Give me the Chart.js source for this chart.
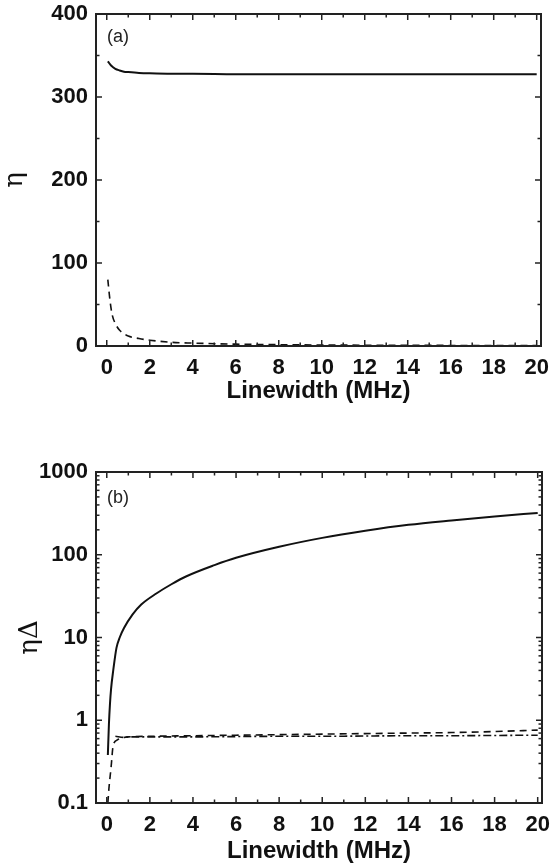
<!DOCTYPE html>
<html>
<head>
<meta charset="utf-8">
<script src="https://cdn.jsdelivr.net/npm/chart.js@4.4.0/dist/chart.umd.min.js"></script>
<style>
body{margin:0;background:#fff;}
#chartA{position:absolute;left:0;top:0;}
#chartB{position:absolute;left:0;top:425px;}
</style>
</head>
<body>
<canvas id="chartA" width="557" height="425"></canvas>
<canvas id="chartB" width="557" height="443"></canvas>
<script>
// x tick labels, shared by both panels
var xTicks = [0, 2, 4, 6, 8, 10, 12, 14, 16, 18, 20]
var yTicksA = [0, 100, 200, 300, 400]
var yTicksB = [0.1, 1, 10, 100, 1000]

// panel (a): eta
var etaSolidX = [0.05, 0.2, 0.4, 0.6, 0.8, 1, 1.5, 2, 3, 4, 6, 8, 10, 12, 14, 16, 18, 20]
var etaSolidY = [343, 338, 334, 332, 330.5, 330, 329, 328.5, 328, 328, 327.5, 327.5, 327.5, 327.5, 327.5, 327.5, 327.5, 327.5]
var etaDashX = [0.05, 0.15, 0.25, 0.4, 0.6, 0.8, 1, 1.5, 2, 3, 4, 6, 8, 10, 14, 20]
var etaDashY = [80, 55, 38, 27, 19, 15, 12, 9, 7, 4.5, 3.5, 2.2, 1.6, 1.2, 0.8, 0.5]

// panel (b): eta*Delta
var edSolidX = [0.05, 0.1, 0.15, 0.2, 0.3, 0.45, 0.6, 0.8, 1.2, 1.6, 2.3, 3, 3.7, 5, 6, 8, 10, 12, 14, 16, 18, 20]
var edSolidY = [0.38, 0.9, 1.6, 2.4, 4, 7.5, 10, 13, 19, 25, 34, 44, 55, 75, 92, 125, 160, 195, 230, 260, 290, 320]
var edDashX = [0.05, 0.1, 0.2, 0.3, 0.5, 0.8, 1, 2, 4, 6, 8, 10, 12, 14, 16, 18, 20]
var edDashY = [0.1, 0.15, 0.27, 0.5, 0.58, 0.62, 0.63, 0.64, 0.65, 0.66, 0.67, 0.68, 0.69, 0.7, 0.71, 0.73, 0.76]
var edDotX = [0.4, 0.8, 1, 2, 4, 6, 8, 10, 12, 14, 16, 18, 20]
var edDotY = [0.64, 0.62, 0.63, 0.63, 0.63, 0.635, 0.64, 0.64, 0.645, 0.65, 0.65, 0.655, 0.66]

function pts(xs, ys){
    var out = []
    for(var i = 0; i < xs.length; i++){
        out.push({x: xs[i], y: ys[i]})
    }
    return out
}

function range(a, b, step){
    var out = []
    for(var v = a; v <= b + 1e-9; v += step) out.push(+v.toFixed(4))
    return out
}

// frame, inward ticks on all four sides, and the panel label
var frameTicks = {
    id: 'frameTicks',
    afterDatasetsDraw: function(chart, args, opts){
        var ctx = chart.ctx, a = chart.chartArea
        var xs = chart.scales.x, ys = chart.scales.y
        ctx.save()
        ctx.strokeStyle = '#222'
        function seg(x1, y1, x2, y2){
            ctx.beginPath(); ctx.moveTo(x1, y1); ctx.lineTo(x2, y2); ctx.stroke()
        }
        ctx.lineWidth = 1.5
        opts.xMajor.forEach(function(v){
            var p = xs.getPixelForValue(v)
            seg(p, a.bottom, p, a.bottom - 6); seg(p, a.top, p, a.top + 6)
        })
        opts.xMinor.forEach(function(v){
            var p = xs.getPixelForValue(v)
            seg(p, a.bottom, p, a.bottom - 3.5); seg(p, a.top, p, a.top + 3.5)
        })
        opts.yMajor.forEach(function(v){
            var p = ys.getPixelForValue(v)
            seg(a.left, p, a.left + 6, p); seg(a.right, p, a.right - 6, p)
        })
        opts.yMinor.forEach(function(v){
            var p = ys.getPixelForValue(v)
            seg(a.left, p, a.left + 3.5, p); seg(a.right, p, a.right - 3.5, p)
        })
        ctx.lineWidth = 2
        ctx.strokeRect(a.left, a.top, a.right - a.left, a.bottom - a.top)
        ctx.fillStyle = '#222'
        ctx.font = '18px "Liberation Sans", Arial, sans-serif'
        ctx.textBaseline = 'middle'
        ctx.fillText(opts.label, a.left + 11, a.top + opts.labelY)
        ctx.restore()
    }
}

var tickFont = {family: '"Liberation Sans", Arial, sans-serif', size: 22, weight: 'bold'}
var titleFont = {family: '"Liberation Sans", Arial, sans-serif', size: 24, weight: 'bold'}
var greekFont = {family: '"DejaVu Serif", "Liberation Serif", serif', size: 26, weight: 'normal'}

function xScale(height, titlePad){
    return {
        type: 'linear', min: -0.5, max: 20.2,
        grid: {display: false, drawTicks: false},
        border: {display: false},
        afterBuildTicks: function(s){ s.ticks = xTicks.map(function(v){ return {value: v} }) },
        afterFit: function(s){ s.height = height; s.paddingLeft = 0; s.paddingRight = 0 },
        ticks: {color: '#111', font: tickFont, padding: 9, maxRotation: 0, autoSkip: false},
        title: {display: true, text: 'Linewidth (MHz)', color: '#111', font: titleFont, padding: {top: 0, bottom: titlePad}}
    }
}

function yFit(s){ s.width = 96; s.paddingTop = 0; s.paddingBottom = 0 }

function lineSet(data, width, dash){
    return {
        data: data, borderColor: '#111', borderWidth: width, borderDash: dash,
        pointRadius: 0, fill: false, cubicInterpolationMode: 'monotone'
    }
}

new Chart(document.getElementById('chartA').getContext('2d'), {
    type: 'line',
    data: {
        datasets: [
            lineSet(pts(etaSolidX, etaSolidY), 2, []),
            lineSet(pts(etaDashX, etaDashY), 1.6, [7, 5])
        ]
    },
    options: {
        responsive: false, animation: false,
        layout: {padding: {left: 0, right: 16, top: 14, bottom: 0}},
        plugins: {
            legend: {display: false}, tooltip: {enabled: false},
            frameTicks: {
                xMajor: xTicks, xMinor: range(1, 19, 2),
                yMajor: yTicksA, yMinor: range(50, 350, 100),
                label: '(a)', labelY: 23
            }
        },
        scales: {
            x: xScale(79, 19),
            y: {
                type: 'linear', min: 0, max: 400,
                grid: {display: false, drawTicks: false},
                border: {display: false},
                afterBuildTicks: function(s){ s.ticks = yTicksA.map(function(v){ return {value: v} }) },
                afterFit: yFit,
                ticks: {color: '#111', font: tickFont, padding: 8},
                title: {display: true, text: 'η', color: '#111', font: greekFont, padding: {top: 0, bottom: 0}}
            }
        }
    },
    plugins: [frameTicks]
});

var logMinor = []
yTicksB.slice(0, 4).forEach(function(d){
    for(var k = 2; k <= 9; k++) logMinor.push(d * k)
})

new Chart(document.getElementById('chartB').getContext('2d'), {
    type: 'line',
    data: {
        datasets: [
            lineSet(pts(edSolidX, edSolidY), 2, []),
            lineSet(pts(edDashX, edDashY), 1.6, [7, 5]),
            lineSet(pts(edDotX, edDotY), 1.6, [8, 3, 2, 3])
        ]
    },
    options: {
        responsive: false, animation: false,
        layout: {padding: {left: 0, right: 15, top: 47, bottom: 0}},
        plugins: {
            legend: {display: false}, tooltip: {enabled: false},
            frameTicks: {
                xMajor: xTicks, xMinor: range(1, 19, 2),
                yMajor: yTicksB, yMinor: logMinor,
                label: '(b)', labelY: 26
            }
        },
        scales: {
            x: xScale(65, 2),
            y: {
                type: 'logarithmic', min: 0.1, max: 1000,
                grid: {display: false, drawTicks: false},
                border: {display: false},
                afterBuildTicks: function(s){ s.ticks = yTicksB.map(function(v){ return {value: v} }) },
                afterFit: yFit,
                ticks: {color: '#111', font: tickFont, padding: 8, callback: function(v){ return String(v) }},
                title: {display: true, text: 'ηΔ', color: '#111', font: greekFont, padding: {top: 15, bottom: 0}}
            }
        }
    },
    plugins: [frameTicks]
});
</script>
</body>
</html>
